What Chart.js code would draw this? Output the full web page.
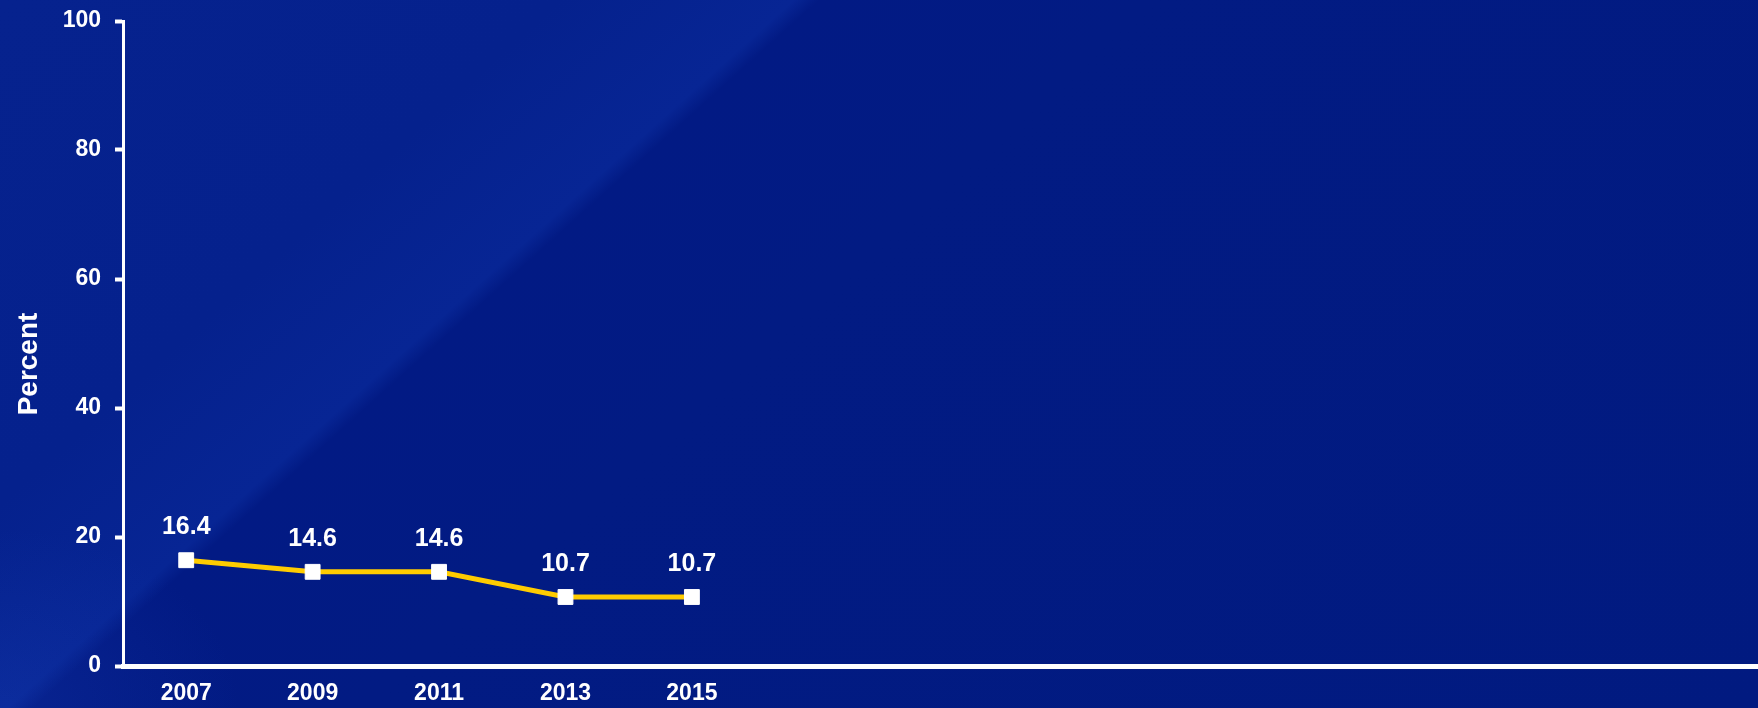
<!DOCTYPE html>
<html>
<head>
<meta charset="utf-8">
<script src="https://cdn.jsdelivr.net/npm/chart.js@4.4.1/dist/chart.umd.min.js"></script>
<style>
  html, body {
    margin: 0;
    padding: 0;
    overflow: hidden;
  }
  body {
    width: 1758px;
    height: 708px;
    background-color: #011a80;
    /* slide background: slightly lighter panel on the left, soft diagonal edge */
    background-image:
      radial-gradient(ellipse 240px 180px at 0px 708px, rgba(30, 70, 190, 0.22), rgba(30, 70, 190, 0)),
      linear-gradient(138deg, #06228e 0%, #05218d 22%, #072594 31.2%, #021a84 32.2%, #021b83 45%, #011a80 100%);
  }
  /* plot runs a little past the right edge, like the original slide */
  #container {
    position: relative;
    width: 1778px;
    height: 708px;
  }
</style>
</head>
<body>
<div id="container"><canvas id="chart"></canvas></div>
<script>
// data
const years = [2007, 2009, 2011, 2013, 2015];
const percents = [16.4, 14.6, 14.6, 10.7, 10.7];
const yTicks = [0, 20, 40, 60, 80, 100];
const yTitle = 'Percent';

const FONT = '"Liberation Sans", Arial, sans-serif';

// value labels above each point
const pointLabels = {
    id: 'pointLabels',
    afterDatasetsDraw(chart) {
        const ctx = chart.ctx;
        const meta = chart.getDatasetMeta(0);
        ctx.save();
        ctx.fillStyle = '#ffffff';
        ctx.font = 'bold 25px ' + FONT;
        ctx.textAlign = 'center';
        ctx.textBaseline = 'middle';
        meta.data.forEach((pt, i) => {
            ctx.fillText(percents[i].toFixed(1), pt.x, pt.y - 33);
        });
        ctx.restore();
    }
};

// axis title sits a bit lower than the plot centre on the slide
const sideTitle = {
    id: 'sideTitle',
    afterDraw(chart) {
        const ctx = chart.ctx;
        ctx.save();
        ctx.translate(29, 364);
        ctx.rotate(-Math.PI / 2);
        ctx.fillStyle = '#ffffff';
        ctx.font = 'bold 28px ' + FONT;
        ctx.textAlign = 'center';
        ctx.textBaseline = 'middle';
        ctx.fillText(yTitle, 0, 0);
        ctx.restore();
    }
};

const ctx = document.getElementById('chart').getContext('2d');
const chart = new Chart(ctx, {
    type: 'line',
    data: {
        datasets: [{
            data: years.map((y, i) => ({ x: y, y: percents[i] })),
            borderColor: '#ffcc00',
            borderWidth: 5,
            pointStyle: 'rect',
            pointRadius: 10.5,
            pointBackgroundColor: '#ffffff',
            pointBorderColor: '#ffffff',
            pointBorderWidth: 1,
            tension: 0
        }]
    },
    options: {
        responsive: true,
        maintainAspectRatio: false,
        animation: false,
        layout: {
            padding: { top: 21, right: 0, bottom: 0, left: 0 }
        },
        plugins: {
            legend: { display: false },
            tooltip: { enabled: false }
        },
        scales: {
            x: {
                type: 'linear',
                min: 2006,
                max: 2032,
                afterBuildTicks: (scale) => {
                    scale.ticks = years.map(v => ({ value: v }));
                },
                afterFit: (scale) => {
                    scale.height = 42;
                },
                grid: { display: false, drawTicks: false },
                border: { display: true, color: '#ffffff', width: 5 },
                ticks: {
                    color: '#ffffff',
                    font: { family: FONT, size: 23, weight: 'bold' },
                    padding: 14,
                    autoSkip: false,
                    maxRotation: 0,
                    callback: (v) => String(v)
                }
            },
            y: {
                min: 0,
                max: 100,
                afterBuildTicks: (scale) => {
                    scale.ticks = yTicks.map(v => ({ value: v }));
                },
                afterFit: (scale) => {
                    // fixed axis width, and don't let the "100" label push the plot down
                    scale.width = 123;
                    scale.paddingTop = 0;
                    scale.paddingBottom = 0;
                },
                grid: {
                    display: true,
                    drawOnChartArea: false,
                    drawTicks: true,
                    tickLength: 8,
                    tickWidth: 4,
                    tickColor: '#ffffff'
                },
                border: { display: true, color: '#ffffff', width: 3 },
                ticks: {
                    color: '#ffffff',
                    font: { family: FONT, size: 23, weight: 'bold' },
                    padding: 14
                }
            }
        }
    },
    plugins: [pointLabels, sideTitle]
});
</script>
</body>
</html>
